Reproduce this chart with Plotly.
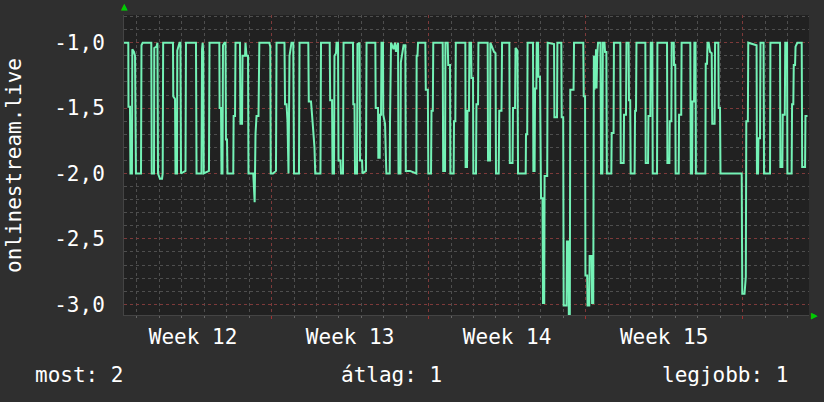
import plotly.graph_objects as go
import pandas as pd

series_name = "onlinestream.live"
start = "2024-03-19 00:00"

# time in hours after start, value of the series
hours = [
    -13.9, -9.3, -9.1, -7.5, -7.0, -5.4, -5.0, -3.2, -2.1, -1.1, 4.3, 4.8, 6.1, 15.3, 15.8, 18.2, 18.5, 20.9, 21.9, 22.5,
    24.6, 26.8, 27.5, 28.0, 38.5, 38.8, 40.7, 41.2, 42.8, 43.1, 45.5, 46.5, 47.1, 51.9, 52.4, 63.1, 63.7, 69.0, 69.6, 70.3,
    70.9, 71.4, 77.0, 77.6, 88.1, 88.4, 89.9, 90.4, 91.5, 92.0, 93.6, 94.7, 95.2, 96.3, 96.8, 103.0, 103.4, 104.9, 105.4, 110.2,
    110.7, 112.4, 112.9, 115.6, 116.1, 117.2, 118.8, 119.3, 124.4, 125.9, 126.8, 127.9, 130.0, 130.9, 141.6, 142.6, 143.1, 145.5, 148.7, 149.3,
    157.8, 158.4, 160.0, 161.0, 162.1, 163.2, 165.3, 167.2, 168.0, 173.3, 173.9, 183.3, 183.8, 186.2, 187.8, 189.9, 190.7, 196.3, 196.9, 206.2,
    206.7, 208.7, 209.2, 210.8, 211.3, 212.9, 213.5, 215.1, 215.6, 217.7, 218.3, 220.4, 221.0, 231.1, 231.4, 232.7, 233.3, 235.4, 235.9, 238.1,
    238.6, 240.8, 241.3, 245.0, 245.6, 255.0, 255.4, 257.9, 258.2, 259.7, 260.0, 261.1, 261.6, 263.2, 263.5, 265.4, 266.8, 270.4, 270.7, 271.8,
    274.5, 276.1, 277.1, 279.3, 279.8, 281.9, 282.3, 284.1, 285.2, 287.1, 287.6, 292.1, 298.9, 299.2, 300.1, 300.7, 308.5, 309.0, 311.2, 311.7,
    314.6, 315.1, 316.5, 317.0, 327.1, 327.6, 329.6, 330.0, 332.4, 333.0, 334.9, 335.3, 338.8, 339.2, 340.6, 341.1, 351.3, 351.6, 353.1, 353.6,
    355.2, 355.7, 357.4, 357.9, 359.5, 359.9, 362.7, 363.2, 364.9, 365.3, 375.2, 375.6, 377.7, 378.1, 381.2, 382.0, 383.6, 384.1, 387.0, 387.6,
    390.0, 390.6, 398.4, 398.9, 401.8, 402.3, 404.5, 405.0, 407.1, 407.7, 415.9, 416.2, 417.5, 417.9, 423.7, 424.1, 425.4, 425.9, 427.3, 427.7,
    429.1, 429.5, 431.2, 431.7, 432.3, 433.9, 434.4, 435.7, 436.1, 438.9, 439.4, 446.2, 446.6, 449.4, 449.8, 454.0, 454.4, 456.0, 456.5, 459.6,
    460.0, 461.5, 462.0, 463.1, 463.6, 467.1, 467.6, 477.5, 478.0, 479.4, 479.8, 481.7, 482.1, 483.9, 484.3, 486.4, 486.9, 488.2, 488.8, 489.5,
    490.1, 490.6, 491.1, 491.7, 492.4, 493.3, 495.9, 496.5, 497.9, 498.4, 500.2, 500.8, 502.2, 502.7, 507.5, 507.9, 509.9, 510.3, 517.1, 517.6,
    520.7, 521.1, 523.2, 523.7, 526.0, 526.4, 527.7, 528.2, 532.4, 532.9, 533.9, 534.4, 543.9, 544.3, 546.8, 547.2, 549.2, 549.7, 551.4, 551.8,
    556.4, 556.8, 567.1, 567.5, 569.6, 570.0, 571.7, 572.1, 574.3, 574.6, 575.9, 576.3, 579.6, 580.0, 582.3, 582.7, 592.0, 592.5, 593.9, 594.3,
    596.0, 596.4, 597.6, 598.0, 608.1, 608.5, 609.9, 610.4, 611.7, 613.1, 614.9, 615.5, 618.0, 618.5, 622.0, 622.4, 623.8, 624.3, 647.0, 647.6,
    650.0, 650.6, 651.4, 651.9, 653.6, 654.0, 661.3, 662.9, 663.3, 664.5, 664.9, 666.6, 667.1, 670.4, 670.9, 677.3, 677.7, 688.0, 688.4, 690.5,
    690.9, 693.1, 693.6, 695.5, 695.9, 700.4, 700.9, 702.2, 702.7, 704.1, 704.6, 706.5, 711.2, 711.7, 714.8, 715.2, 717.4,
]
values = [
    -1.0, -1.0, -1.49, -1.49, -2.0, -2.0, -1.05, -1.07, -1.1, -2.0, -2.0, -1.02, -1.0, -1.0, -2.0, -2.0, -1.04, -1.03, -1.0, -2.0,
    -2.04, -2.04, -2.0, -1.0, -1.0, -1.41, -1.43, -2.0, -2.0, -1.06, -1.0, -1.0, -2.0, -1.98, -1.0, -1.0, -2.0, -2.0, -1.05, -1.0,
    -1.08, -2.0, -1.98, -1.0, -1.0, -1.5, -1.5, -2.0, -2.0, -1.02, -1.0, -1.0, -1.74, -1.74, -2.0, -2.0, -1.56, -1.56, -1.0, -1.0,
    -1.62, -1.62, -1.1, -1.1, -1.0, -1.1, -1.1, -2.0, -2.0, -2.22, -1.7, -1.56, -1.56, -1.0, -1.0, -1.03, -2.0, -2.0, -1.98, -1.0,
    -1.0, -1.47, -1.47, -1.6, -2.0, -1.1, -1.0, -1.0, -2.0, -2.0, -1.0, -1.0, -1.45, -1.45, -1.6, -1.8, -2.0, -2.0, -1.0, -1.0,
    -1.44, -1.44, -2.0, -2.0, -1.1, -1.08, -1.0, -1.0, -1.9, -1.9, -2.0, -2.0, -1.0, -1.0, -1.47, -1.47, -2.0, -2.0, -1.01, -1.0,
    -1.9, -1.9, -2.0, -1.98, -1.0, -1.0, -1.5, -1.5, -1.88, -1.88, -1.55, -1.55, -1.0, -1.0, -1.55, -1.62, -2.0, -2.0, -1.62, -1.0,
    -1.05, -1.0, -1.07, -1.0, -2.0, -2.0, -1.15, -1.07, -1.02, -1.02, -1.98, -1.98, -2.0, -1.1, -1.1, -1.0, -1.0, -1.36, -1.36, -2.0,
    -2.0, -1.52, -1.52, -1.0, -1.0, -1.98, -1.98, -1.0, -1.0, -1.17, -1.17, -2.0, -2.0, -1.6, -1.6, -1.0, -1.0, -1.95, -1.95, -1.52,
    -1.52, -1.0, -1.0, -1.27, -1.27, -2.0, -2.0, -1.47, -1.47, -1.0, -1.0, -1.9, -1.9, -1.0, -1.05, -1.07, -1.08, -2.0, -2.0, -1.52,
    -1.52, -1.0, -1.0, -1.92, -1.92, -1.5, -1.5, -1.04, -1.06, -2.0, -2.0, -1.7, -1.7, -1.0, -1.0, -1.98, -1.98, -1.35, -1.35, -1.0,
    -1.0, -1.26, -1.26, -2.0, -2.19, -2.19, -2.99, -2.99, -2.02, -2.02, -1.0, -1.01, -1.57, -1.57, -1.0, -1.0, -1.57, -1.57, -3.01, -3.01,
    -2.52, -2.52, -3.08, -3.08, -1.36, -1.36, -1.0, -1.0, -1.41, -1.41, -2.78, -2.78, -3.01, -3.01, -2.63, -2.63, -2.99, -2.99, -1.1, -1.36,
    -1.1, -1.3, -1.05, -1.35, -1.1, -1.0, -1.0, -2.0, -2.0, -1.0, -1.0, -1.07, -1.07, -2.0, -2.0, -1.69, -1.69, -1.0, -1.0, -1.92,
    -1.92, -1.55, -1.55, -1.0, -1.0, -1.44, -1.44, -2.0, -2.0, -1.52, -1.52, -1.0, -1.0, -1.92, -1.92, -1.56, -1.56, -1.0, -1.0, -2.0,
    -2.0, -1.0, -1.0, -1.92, -1.92, -1.6, -1.6, -1.0, -1.0, -1.17, -1.17, -2.0, -2.0, -1.55, -1.55, -1.0, -1.0, -2.0, -2.0, -1.45,
    -1.45, -1.0, -1.0, -2.0, -2.0, -1.16, -1.16, -1.0, -1.0, -1.07, -1.08, -1.62, -1.62, -1.0, -1.0, -1.5, -1.5, -2.0, -2.0, -2.92,
    -2.92, -2.79, -2.79, -1.6, -1.6, -1.0, -1.02, -1.02, -2.0, -2.0, -1.73, -1.73, -1.0, -1.0, -2.0, -2.0, -1.0, -1.0, -1.95, -1.95,
    -1.55, -1.55, -1.0, -1.0, -2.0, -2.0, -1.47, -1.47, -1.17, -1.17, -1.03, -1.0, -1.0, -1.95, -1.95, -1.56, -1.56,
]

x_range_hours = [-13.9, 719.0]
y_range = [-3.082, -0.788]
y_ticks = [-3.0, -2.5, -2.0, -1.5, -1.0]
y_tick_labels = ["-3,0", "-2,5", "-2,0", "-1,5", "-1,0"]
week_start = "2024-03-18"
legend_items = [("most", "2"), ("átlag", "1"), ("legjobb", "1")]

FONT = "DejaVu Sans Mono"
LINE = "#74F2B6"
MAJOR = "#7d3a3a"
MINOR = "#4e4e4e"

t0 = pd.Timestamp(start)
times = t0 + pd.to_timedelta(hours, unit="h")
xr = [t0 + pd.Timedelta(hours=h) for h in x_range_hours]

fig = go.Figure()
fig.add_trace(go.Scatter(x=times, y=values, mode="lines",
                         line=dict(color=LINE, width=2), name=series_name,
                         showlegend=False, hoverinfo="skip"))

fig.update_layout(
    width=824, height=402, autosize=False,
    margin=dict(l=124, r=15, t=15, b=87, pad=0),
    paper_bgcolor="#2f2f2f", plot_bgcolor="#212121",
    font=dict(family=FONT, size=21, color="#ffffff"),
    showlegend=False,
)
fig.update_xaxes(
    type="date", range=xr, tick0=week_start, dtick=7 * 86400000,
    ticklabelmode="period", tickformat="Week %V",
    showgrid=True, gridcolor=MAJOR, griddash="dot", gridwidth=1,
    ticks="outside", ticklen=3, tickcolor="#a03030",
    tickfont=dict(family=FONT, size=21, color="#ffffff"),
    minor=dict(dtick=86400000, tick0=week_start, showgrid=True,
               gridcolor=MINOR, griddash="dot", ticks="outside",
               ticklen=2, tickcolor="#666666"),
    showline=True, linecolor="#444444", zeroline=False,
)
fig.update_yaxes(
    range=y_range, tickmode="array", tickvals=y_ticks, ticktext=y_tick_labels,
    showgrid=True, gridcolor=MAJOR, griddash="dot", gridwidth=1,
    ticks="", ticklabelstandoff=14,
    tickfont=dict(family=FONT, size=21, color="#ffffff"),
    minor=dict(dtick=0.1, tick0=-3.0, showgrid=True, gridcolor=MINOR,
               griddash="dot"),
    showline=True, linecolor="#444444", zeroline=False,
)

annotations = [
    dict(text=series_name, xref="paper", yref="paper", x=-0.1606, y=0.5,
         xanchor="center", yanchor="middle", textangle=-90, showarrow=False,
         font=dict(family=FONT, size=21, color="#ffffff")),
    dict(text="▲", xref="paper", yref="paper", x=0.0, y=1.0, xanchor="center",
         yanchor="bottom", showarrow=False, font=dict(size=11, color="#00cc00")),
    dict(text="▶", xref="paper", yref="paper", x=1.0, y=0.0, xanchor="left",
         yanchor="middle", showarrow=False, font=dict(size=11, color="#00cc00")),
]
legend_pos = [(-0.1328, "left"), (0.391, "center"), (0.972, "right")]
for (label, val), (px, anchor) in zip(legend_items, legend_pos):
    annotations.append(dict(text=f"{label}: {val}", xref="paper", yref="paper",
                            x=px, y=-0.2, xanchor=anchor, yanchor="middle",
                            showarrow=False,
                            font=dict(family=FONT, size=21, color="#ffffff")))
fig.update_layout(annotations=annotations)

fig.write_html("out.html",
               config={"displayModeBar": False, "staticPlot": True},
               post_script="document.body.style.margin='0';"
                           "document.body.style.padding='0';")
